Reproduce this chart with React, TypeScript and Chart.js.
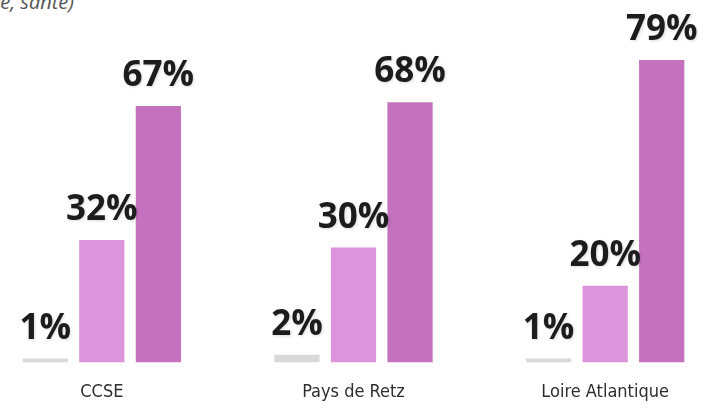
import React, { useEffect, useRef } from "react";
import { Chart, registerables } from "chart.js";

Chart.register(...registerables);

const categories = ["CCSE", "Pays de Retz", "Loire Atlantique"];
const series1 = [1, 2, 1];
const series2 = [32, 30, 20];
const series3 = [67, 68, 79];
const seriesColors = ["#d9d9d9", "#dc95dc", "#c472be"];
const yMax = 90;

const valueLabels = {
  id: "valueLabels",
  afterDatasetsDraw(chart: any) {
    const ctx = chart.ctx;
    ctx.save();
    ctx.font = "700 35px 'Open Sans', sans-serif";
    ctx.textAlign = "center";
    ctx.textBaseline = "alphabetic";
    ctx.fillStyle = "#1c1c1c";
    ctx.shadowColor = "rgba(0,0,0,0.15)";
    ctx.shadowBlur = 3;
    ctx.shadowOffsetX = 1;
    ctx.shadowOffsetY = 1;
    chart.data.datasets.forEach((ds: any, i: number) => {
      const meta = chart.getDatasetMeta(i);
      meta.data.forEach((el: any, j: number) => {
        ctx.fillText(ds.data[j] + "%", el.x, el.y - 20);
      });
    });
    ctx.restore();
  },
};

export default function App() {
  const ref = useRef<HTMLCanvasElement>(null);
  useEffect(() => {
    if (!ref.current) return;
    const chart = new Chart(ref.current, {
      type: "bar",
      data: {
        labels: categories,
        datasets: [series1, series2, series3].map((d, i) => ({
          data: d,
          backgroundColor: seriesColors[i],
          borderWidth: 0,
          categoryPercentage: 0.674,
          barPercentage: 0.8,
        })),
      },
      options: {
        responsive: false,
        animation: false,
        layout: { padding: { top: 18, bottom: 0, left: 0, right: 0 } },
        plugins: { legend: { display: false }, tooltip: { enabled: false } },
        scales: {
          x: {
            grid: { display: false, drawTicks: false },
            border: { display: false },
            ticks: {
              padding: 19,
              color: "#2e2e2e",
              font: { family: "'DejaVu Sans Condensed', sans-serif", size: 18 },
            },
          },
          y: {
            display: false,
            min: 0,
            max: yMax,
          },
        },
      },
      plugins: [valueLabels],
    });
    return () => chart.destroy();
  }, []);

  return (
    <div
      style={{
        position: "absolute",
        left: 0,
        top: 0,
        width: 708,
        height: 413,
        overflow: "hidden",
        background: "#ffffff",
      }}
    >
      <div
        style={{
          position: "absolute",
          right: 634,
          top: -8,
          whiteSpace: "nowrap",
          fontFamily: "'Open Sans', sans-serif",
          fontStyle: "italic",
          fontSize: 20,
          lineHeight: "20px",
          color: "#555",
        }}
      >
        (logement, énergie, mobilité, santé)
      </div>
      <canvas
        ref={ref}
        width={755}
        height={422}
        style={{ position: "absolute", left: -24, top: 0, width: 755, height: 422 }}
      />
    </div>
  );
}
